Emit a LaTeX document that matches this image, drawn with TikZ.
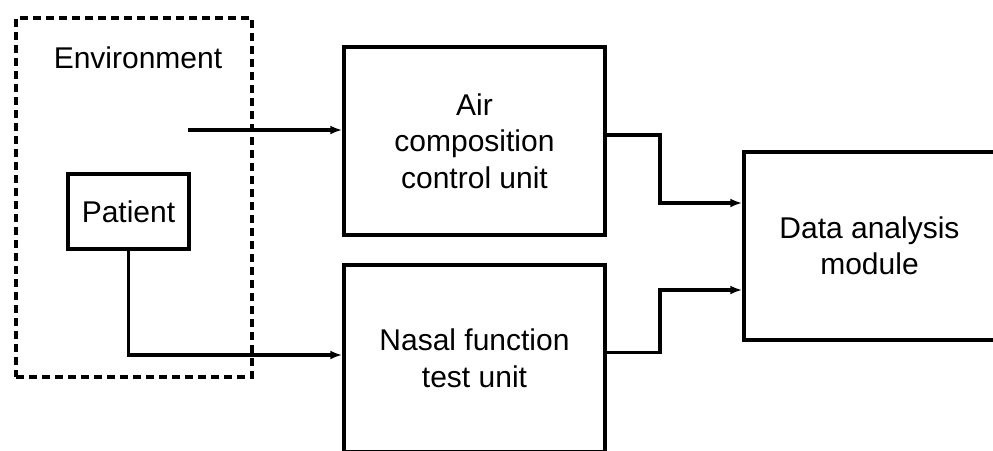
\documentclass[tikz,border=0pt]{standalone}
\usepackage{fontspec}
\setmainfont{Liberation Sans}
\usetikzlibrary{arrows.meta}
\begin{document}
\begin{tikzpicture}[x=1pt,y=-1pt,
  blockbox/.style={draw, line width=3.5pt, inner sep=0pt, align=center, font=\fontsize{30}{36.5}\selectfont},
  envbox/.style={draw, line width=3.5pt, dash pattern=on 8pt off 5pt, inner sep=0pt},
  lbl/.style={inner sep=0pt, align=center, font=\fontsize{30}{36.5}\selectfont},
  conn/.style={line width=3.5pt, -{Latex[length=12pt,width=9pt]}}]
\useasboundingbox (0,0) rectangle (993,450);
\clip (0,0) rectangle (993,450);
\fill[white] (0,0) rectangle (993,450);
% environment
\node[envbox, minimum width=236pt, minimum height=359pt] (env) at (134,197.5) {};
\node[lbl] (envlabel) at (138,58) {Environment};
\node[blockbox, minimum width=121pt, minimum height=75pt] (patient) at (128.5,211.5) {Patient};
% units
\node[blockbox, minimum width=261pt, minimum height=188pt] (air) at (474.5,141) {Air\\composition\\control unit};
\node[blockbox, minimum width=261pt, minimum height=187pt] (nasal) at (474.5,358.5) {Nasal function\\test unit};
\node[blockbox, minimum width=251pt, minimum height=188pt] (data) at (869.5,246) {Data analysis\\module};
% connectors
\coordinate (airin) at (188,130);
\draw[conn] (airin) -- (airin -| air.west);
\draw[conn] (patient.south) |- ([yshift=3.5pt]nasal.west);
\coordinate (j1) at (660,203);
\coordinate (j2) at (660,290);
\draw[conn] ([yshift=6pt]air.east) -| (j1) -- (j1 -| data.west);
\draw[conn] ([yshift=6pt]nasal.east) -| (j2) -- (j2 -| data.west);
\end{tikzpicture}
\end{document}
